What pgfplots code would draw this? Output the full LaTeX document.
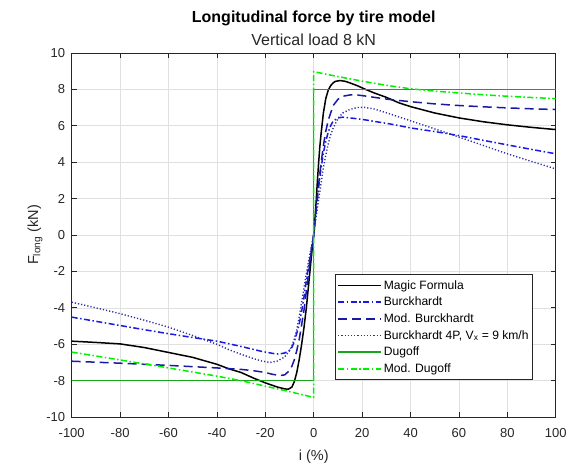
\documentclass[border=0pt]{standalone}
\usepackage{pgfplots}
\pgfplotsset{compat=1.18}
\usepackage{fontspec}
\setmainfont{Liberation Sans}
\definecolor{burck}{RGB}{25,25,225}
\definecolor{modburck}{RGB}{25,25,165}
\definecolor{burckfp}{RGB}{45,45,165}
\definecolor{dugoff}{RGB}{25,165,25}
\definecolor{moddugoff}{RGB}{0,240,0}
\definecolor{axcol}{RGB}{38,38,38}
\pgfplotsset{mylegimg/.style={legend image code/.code={\draw[#1] (0pt,0pt) -- (43pt,0pt);}}}
\pgfplotstableread{
x y
-100 -5.83
-90 -5.9
-80 -5.98
-70 -6.18
-60 -6.45
-50 -6.72
-40 -7.1
-35 -7.35
-30 -7.55
-25 -7.85
-20 -8.12
-15 -8.35
-12 -8.45
-10.5 -8.47
-9 -8.35
-8 -8.05
-7 -7.55
-6 -6.85
-5 -6.02
-4 -5.07
-3 -3.95
-2 -2.6
-1 -1.25
0 0
0.5 0.9
1 1.8
1.5 2.9
2 3.9
2.5 4.8
3 5.5
4 6.7
5 7.5
6 7.95
7 8.2
8 8.35
9 8.44
11 8.48
13 8.44
15 8.35
18 8.2
21 8.02
25 7.8
30 7.56
35 7.27
40 7.05
50 6.7
60 6.43
70 6.22
80 6.05
90 5.91
100 5.79
}\mf
\pgfplotstableread{
x y
-100 -4.51
-90 -4.74
-80 -4.97
-70 -5.2
-60 -5.42
-50 -5.63
-40 -5.83
-30 -6.12
-25 -6.28
-21.5 -6.39
-17 -6.5
-14.5 -6.54
-12 -6.48
-10 -6.33
-9 -6.17
-8 -5.85
-7 -5.4
-6 -4.9
-5 -4.2
-4 -3.4
-3 -2.45
-2 -1.65
-1 -0.8
0 0
1 1.3
2 2.6
3 3.65
4 4.5
5 5.15
6 5.65
7 6.0
8 6.25
10 6.43
12 6.47
15 6.43
20 6.35
25 6.24
31.5 6.1
40 5.88
50 5.68
60 5.46
70 5.2
80 4.95
90 4.7
100 4.46
}\burckt
\pgfplotstableread{
x y
-100 -6.93
-80 -7.04
-60 -7.16
-40 -7.3
-30 -7.38
-25 -7.45
-20 -7.55
-17 -7.65
-14 -7.72
-12 -7.68
-10 -7.45
-9 -7.2
-8 -6.85
-7 -6.35
-6 -5.75
-5 -4.95
-4 -4.1
-3 -3.05
-2 -1.95
-1 -0.95
0 0
1 1.4
2 2.75
3 3.9
4 4.9
5 5.7
6 6.3
8 7.1
10 7.45
12 7.62
15 7.69
18 7.69
22 7.62
26 7.54
31.5 7.44
40 7.32
50 7.2
60 7.11
70 7.04
80 6.98
90 6.93
100 6.89
}\modburckt
\pgfplotstableread{
x y
-100 -3.69
-90 -4.0
-80 -4.32
-70 -4.68
-60 -5.06
-50 -5.52
-40 -6.0
-35 -6.3
-30 -6.55
-25 -6.78
-21.5 -6.92
-18 -7.0
-15 -6.92
-12 -6.7
-10 -6.35
-9 -6.08
-8 -5.7
-7 -5.2
-6 -4.5
-5 -3.7
-4 -2.9
-3 -2.1
-2 -1.35
-1 -0.65
0 0
1 1.0
2 1.9
3 2.8
4 3.7
5 4.4
6 5.0
7 5.5
8 5.85
10 6.4
12 6.7
15 6.9
18 7.0
21 7.01
25 6.92
31.5 6.65
40 6.27
50 5.83
60 5.38
70 4.92
80 4.46
90 4.04
100 3.63
}\burckfpt
\pgfplotstableread{
x y
-100 -8
0 -8
0 8
100 8
}\dugofft
\pgfplotstableread{
x y
-100 -6.43
-80 -6.86
-60 -7.3
-40 -7.75
-30 -8.0
-20 -8.3
-10 -8.6
0 -8.92
0 8.97
10 8.7
20 8.45
30 8.22
40 8.03
50 7.9
60 7.8
70 7.7
80 7.62
90 7.55
100 7.49
}\moddugofft
\begin{document}
\begin{tikzpicture}[x=1pt,y=1pt]
\path[use as bounding box] (0,0) rectangle (567,466);
\begin{axis}[
  at={(71.7pt,48.9pt)}, anchor=south west,
  scale only axis, width=484pt, height=364.2pt,
  xmin=-100, xmax=100, ymin=-10, ymax=10,
  xtick={-100,-80,...,100}, ytick={-10,-8,...,10},
  grid=major, grid style={color=black!12, line width=0.6pt},
  axis line style={color=axcol, line width=0.7pt},
  tick style={color=axcol, line width=0.7pt},
  major tick length=5pt,
  tick align=inside,
  /pgf/number format/assume math mode=true,
  ticklabel style={font=\fontsize{13}{15}\selectfont, color=black!85},
  xticklabel style={yshift=-8pt},
  yticklabel style={xshift=-3pt},
  xlabel={i (\%)}, ylabel={F\textsubscript{long} (kN)},
  label style={font=\fontsize{14.5}{17}\selectfont, color=black!85},
  xlabel style={at={(axis description cs:0.5,-0.11)}, anchor=center},
  ylabel style={at={(axis description cs:-0.0758,0.5)}, anchor=center},
  legend style={at={(axis description cs:0.544,0.3916)}, anchor=north west,
    font=\fontsize{12.1}{14}\selectfont, draw=axcol, line width=0.7pt,
    inner xsep=2pt, inner ysep=3.5pt, row sep=2.4pt, cells={anchor=west}},
  mylegimg,
]
\addplot[black, line width=1.5pt] table {\mf};
\addlegendentry{Magic Formula}
\addplot[burck, line width=1.5pt, dash pattern=on 6pt off 2.5pt on 1.5pt off 2.5pt] table {\burckt};
\addlegendentry{Burckhardt}
\addplot[modburck, line width=1.5pt, dash pattern=on 9pt off 5pt] table {\modburckt};
\addlegendentry{Mod. Burckhardt}
\addplot[burckfp, line width=1.4pt, dash pattern=on 1.2pt off 2pt] table {\burckfpt};
\addlegendentry{Burckhardt 4P, V\textsubscript{x} = 9 km/h}
\addplot[dugoff, line width=1.5pt] table {\dugofft};
\addlegendentry{Dugoff}
\addplot[moddugoff, line width=1.5pt, dash pattern=on 6pt off 2.5pt on 1.5pt off 2.5pt] table {\moddugofft};
\addlegendentry{Mod. Dugoff}
\end{axis}
\node[anchor=base, font=\bfseries\fontsize{16}{18}\selectfont] at (313.7,443) {Longitudinal force by tire model};
\node[anchor=base, font=\fontsize{16}{18}\selectfont, color=black!85] at (313.7,420) {Vertical load 8 kN};
\end{tikzpicture}
\end{document}
